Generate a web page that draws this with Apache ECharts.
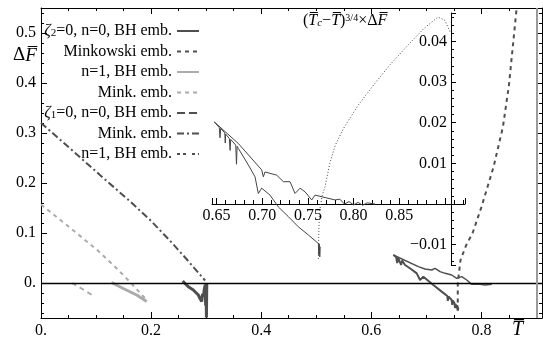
<!DOCTYPE html>
<html>
<head>
<meta charset="utf-8">
<script src="https://cdn.jsdelivr.net/npm/echarts@6/dist/echarts.min.js"></script>
<style>
  html, body { margin: 0; padding: 0; background: #fff; }
  #chart { width: 543px; height: 340px; }
</style>
</head>
<body>
<div id="chart"></div>
<script>
// main plot, [T, dF] pairs
const minkZeta1 = [[0, 0.32], [0.05, 0.272], [0.107, 0.216], [0.16, 0.165], [0.2, 0.124], [0.234, 0.085], [0.265, 0.047], [0.298, 0.005]];
const minkN1 = [[0, 0.157], [0.05, 0.113], [0.102, 0.066], [0.134, 0.033], [0.16, 0.004], [0.186, -0.027], [0.193, -0.036]];
const bhN1 = [[0.128, 0.001], [0.1495, -0.011], [0.1738, -0.024], [0.192, -0.037]];
const bhN1Zeta1 = [[0.056, 0], [0.075, -0.012], [0.094, -0.025]];
const bhNearT03 = [[0.2574, 0.004], [0.26, 0.0], [0.2625, -0.002], [0.2676, -0.0073], [0.27, -0.004], [0.2767, -0.014], [0.28, -0.012],
  [0.2858, -0.024], [0.288, -0.02], [0.2888, -0.031], [0.2919, -0.037], [0.2935, -0.022], [0.2949, -0.027], [0.297, -0.01],
  [0.2985, -0.003], [0.299, -0.045], [0.3, -0.03], [0.3005, -0.069], [0.301, -0.01], [0.3012, 0.0]];
const bhLowBranch = [[0.640, 0.056], [0.645, 0.052], [0.647, 0.040], [0.649, 0.050], [0.652, 0.047], [0.654, 0.036], [0.656, 0.045],
  [0.6612, 0.036], [0.672, 0.028], [0.6825, 0.0193], [0.6885, 0.006], [0.6945, 0.0127], [0.7127, -0.004], [0.7278, -0.0173],
  [0.738, -0.026], [0.739, -0.036], [0.740, -0.027], [0.746, -0.034], [0.747, -0.044], [0.748, -0.035], [0.751, -0.04],
  [0.752, -0.05], [0.753, -0.042], [0.7551, -0.0507], [0.756, -0.044], [0.757, -0.055], [0.758, -0.05]];
const bhHighBranch = [[0.640, 0.056], [0.6854, 0.0327], [0.6975, 0.028], [0.7097, 0.026], [0.7157, 0.0293], [0.7248, 0.0227],
  [0.7339, 0.0193], [0.746, 0.016], [0.7551, 0.0093], [0.7642, 0.0127], [0.7733, 0.006], [0.7824, -0.0027], [0.7944, -0.002],
  [0.8065, -0.004], [0.8187, -0.0027]];
const minkZeta2 = [[0.757, -0.055], [0.757, 0.0], [0.762, 0.046], [0.772, 0.075], [0.784, 0.1], [0.8, 0.152], [0.822, 0.232],
  [0.839, 0.312], [0.85, 0.396], [0.864, 0.55]];
const criticalT = 0.9;

// inset: (Tc - T)^(3/4) x dF
const insetUpper = [[0.6475, 0.0202], [0.6738, 0.0149], [0.6994, 0.0084], [0.7012, 0.0067], [0.703, 0.0079], [0.7159, 0.0071],
  [0.7231, 0.0055], [0.7304, 0.0055], [0.7359, 0.0026], [0.7414, 0.0039], [0.7469, 0.003], [0.7542, 0.001], [0.7578, 0.0022],
  [0.7688, 0.0016], [0.7797, 0.001], [0.785, 0.0012], [0.79, 0.0], [0.795, 0.0006], [0.80, -0.0002], [0.805, 0.0004],
  [0.81, -0.0003], [0.815, 0.0003], [0.8235, 0.0]];
const insetLower = [[0.6475, 0.0202], [0.653, 0.0188], [0.6538, 0.0163], [0.6545, 0.0186], [0.659, 0.0175], [0.6595, 0.015],
  [0.66, 0.0172], [0.664, 0.0161], [0.6648, 0.0132], [0.6655, 0.0159], [0.671, 0.0145], [0.6718, 0.0098], [0.6725, 0.0142],
  [0.6738, 0.0137], [0.6848, 0.0096], [0.6921, 0.0067], [0.6957, 0.0026], [0.6994, 0.0039], [0.7085, 0.0022], [0.7176, -0.0007],
  [0.7286, -0.0031], [0.7395, -0.0056], [0.7505, -0.0076], [0.7614, -0.0097], [0.762, -0.0125], [0.7625, -0.0098],
  [0.763, -0.013], [0.7635, -0.0105]];
const insetDotted = [[0.7614, -0.0135], [0.762, -0.006], [0.763, -0.0015], [0.7655, 0.002], [0.7688, 0.0043], [0.774, 0.01],
  [0.78, 0.0145], [0.79, 0.019], [0.805, 0.0243], [0.822, 0.0293], [0.84, 0.0343], [0.86, 0.0392], [0.877, 0.0432],
  [0.8925, 0.046], [0.9, 0.0452], [0.9057, 0.0423]];

const legendNames = ['z2bh', 'z2mink', 'n1bh', 'n1mink', 'z1bh', 'z1mink', 'z1n1bh'];
const legendLabels = {
  z2bh: '{g|ζ}{s|2}=0, n=0, BH emb.',
  z2mink: 'Minkowski emb.',
  n1bh: 'n=1, BH emb.',
  n1mink: 'Mink. emb.',
  z1bh: '{g|ζ}{s|1}=0, n=0, BH emb.',
  z1mink: 'Mink. emb.',
  z1n1bh: 'n=1, BH emb.'
};

const serif = 'Liberation Serif';
const dark = '#4f4f4f';
const light = '#ababab';

const chart = echarts.init(document.getElementById('chart'));

const fmtMain = v => (Math.abs(v) < 1e-9 ? '0.' : v.toFixed(1));
const labelStyle = { fontFamily: serif, fontSize: 16, color: '#000' };

function frameAxis(pos, withLabels, extra) {
  return Object.assign({
    type: 'value',
    gridIndex: 0,
    position: pos,
    axisLine: { show: true, onZero: false, lineStyle: { color: '#000', width: 1 } },
    axisTick: { show: true, inside: true, length: 6, lineStyle: { color: '#000' } },
    minorTick: { show: true, length: 3, lineStyle: { color: '#000' } },
    splitLine: { show: false },
    minorSplitLine: { show: false },
    axisLabel: Object.assign({ show: withLabels, margin: 5, showMinLabel: pos === 'bottom', showMaxLabel: false, formatter: fmtMain }, labelStyle)
  }, extra);
}

function line(name, data, color, width, type, xi) {
  return {
    name, type: 'line', data, xAxisIndex: xi || 0, yAxisIndex: xi || 0,
    symbol: 'none', animation: false, silent: true,
    itemStyle: { color },
    lineStyle: { color, width, type: type || 'solid' }
  };
}

const xMain = { min: 0, max: 0.91, interval: 0.2 };
const yMain = { min: -0.07, max: 0.55, splitNumber: 6 };

const option = {
  animation: false,
  grid: [
    { left: 41, right: 1, top: 8, bottom: 22, outerBoundsMode: 'none' },
    { left: 212, top: 13, width: 253, height: 252, outerBoundsMode: 'none' }
  ],
  xAxis: [
    frameAxis('bottom', true, Object.assign({ minorTick: { show: true, splitNumber: 4, length: 3, lineStyle: { color: '#000' } } }, xMain)),
    frameAxis('top', false, Object.assign({ minorTick: { show: true, splitNumber: 4, length: 3, lineStyle: { color: '#000' } } }, xMain)),
    {
      // sits on the inset's zero level (offset up from the inset bottom)
      type: 'value', gridIndex: 1, position: 'bottom', offset: -61, min: 0.645, max: 0.922, splitNumber: 5,
      axisLine: { show: true, onZero: false, lineStyle: { color: '#000', width: 1 } },
      axisTick: { show: true, inside: true, length: 6, lineStyle: { color: '#000' } },
      minorTick: { show: true, splitNumber: 5, length: 4, lineStyle: { color: '#000' } },
      splitLine: { show: false },
      axisLabel: Object.assign({ margin: 4, showMinLabel: false, showMaxLabel: false,
        formatter: v => (v > 0.86 || v < 0.649 ? '' : v.toFixed(2)) }, labelStyle)
    }
  ],
  yAxis: [
    frameAxis('left', true, Object.assign({ minorTick: { show: true, splitNumber: 5, length: 3, lineStyle: { color: '#000' } } }, yMain)),
    frameAxis('right', false, Object.assign({ minorTick: { show: true, splitNumber: 5, length: 3, lineStyle: { color: '#000' } } }, yMain)),
    {
      type: 'value', gridIndex: 1, position: 'right', offset: -14, min: -0.015, max: 0.047, splitNumber: 6,
      axisLine: { show: true, onZero: false, lineStyle: { color: '#000', width: 1 } },
      axisTick: { show: true, length: 5, lineStyle: { color: '#000' } },
      minorTick: { show: true, splitNumber: 5, length: 3, lineStyle: { color: '#000' } },
      splitLine: { show: false },
      axisLabel: Object.assign({ inside: true, margin: 4, showMinLabel: false, showMaxLabel: false,
        formatter: v => (Math.abs(v) < 1e-9 ? '' : (v < 0 ? '\u2212' : '') + Math.abs(v).toFixed(2)) }, labelStyle)
    }
  ],
  legend: {
    orient: 'vertical', align: 'right', right: 343, top: 23, padding: 0,
    itemWidth: 22, itemHeight: 16, itemGap: 4.5, selectedMode: false,
    itemStyle: { color: 'rgba(0,0,0,0)', borderWidth: 0, opacity: 0 },
    textStyle: {
      fontFamily: serif, fontSize: 16, color: '#000', lineHeight: 16,
      rich: {
        g: { fontFamily: serif, fontSize: 16, fontStyle: 'italic', lineHeight: 16 },
        s: { fontFamily: serif, fontSize: 11, lineHeight: 10, verticalAlign: 'bottom' }
      }
    },
    data: legendNames.map(n => n === 'z1n1bh'
      ? { name: n, lineStyle: { color: dark, width: 2, type: [3, 3, 3, 6] } }
      : { name: n }),
    formatter: n => legendLabels[n]
  },
  series: [
    Object.assign(line('z2bh', bhNearT03, dark, 3), {
      markLine: {
        silent: true, symbol: 'none', label: { show: false }, animation: false,
        data: [
          { yAxis: 0, lineStyle: { color: '#000', width: 1.3, type: 'solid' } },
          { xAxis: criticalT, lineStyle: { color: '#9a9a9a', width: 2, type: 'solid' } }
        ]
      }
    }),
    line('z2bh', bhLowBranch, dark, 2),
    line('z2bh', bhHighBranch, dark, 1.5),
    line('z2mink', minkZeta2, dark, 2, [4, 4]),
    line('n1bh', bhN1, light, 3),
    line('n1mink', minkN1, light, 2, [4, 4]),
    line('z1bh', [], dark, 2, [8, 4]),
    line('z1mink', minkZeta1, dark, 2, [7, 3, 2, 3]),
    line('z1n1bh', bhN1Zeta1, light, 2, [5, 4]),
    line('insetA', insetUpper, '#444', 1, 'solid', 2),
    line('insetB', insetLower, '#444', 1, 'solid', 2),
    line('insetC', insetDotted, '#444', 1, [1, 2], 2)
  ],
  graphic: [
    {
      type: 'text', left: 13, top: 46, silent: true,
      style: {
        text: '\u0394{i|F\u0305}', fontFamily: serif, fontSize: 19, fill: '#000',
        rich: { i: { fontFamily: serif, fontSize: 19, fontStyle: 'italic' } }
      }
    },
    {
      type: 'text', left: 512, top: 320, silent: true,
      style: { text: 'T\u0305', fontFamily: serif, fontSize: 20, fontStyle: 'italic', fill: '#000' }
    },
    {
      type: 'text', left: 303, top: 13, silent: true,
      style: {
        text: '({i|T\u0305}{s|c}\u2212{i|T\u0305}){p|3/4}\u00d7\u0394{i|F\u0305}',
        fontFamily: serif, fontSize: 16, fill: '#000',
        rich: {
          i: { fontFamily: serif, fontSize: 16, fontStyle: 'italic' },
          s: { fontFamily: serif, fontSize: 11, fontStyle: 'italic', lineHeight: 10, verticalAlign: 'bottom' },
          p: { fontFamily: serif, fontSize: 10, lineHeight: 10, verticalAlign: 'top' }
        }
      }
    }
  ]
};

chart.setOption(option);
</script>
</body>
</html>
